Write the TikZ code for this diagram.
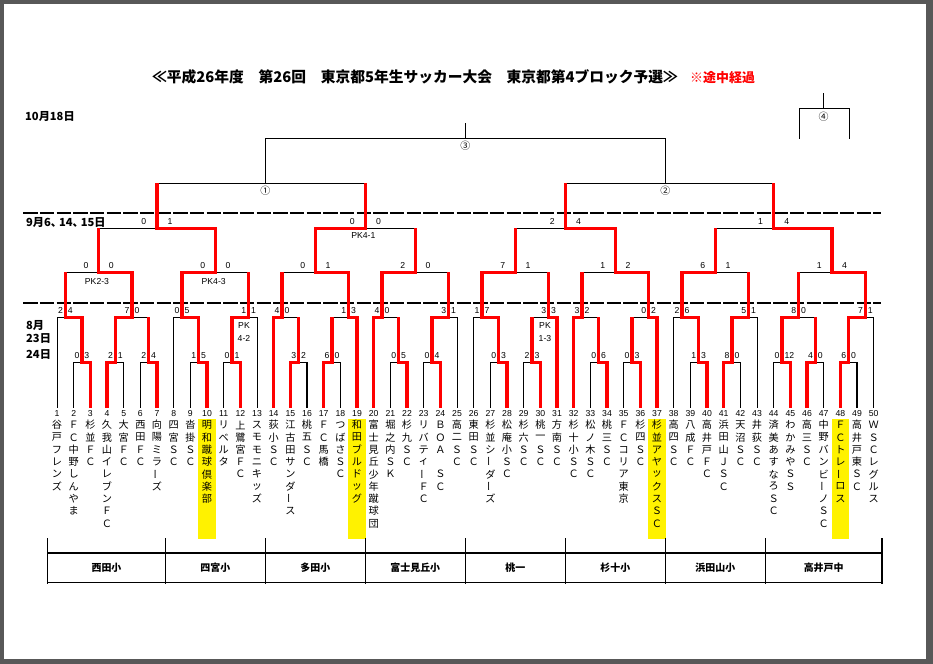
\documentclass[tikz,border=0pt]{standalone}
\usepackage{fontspec}
\usepackage{graphicx}
\setmainfont{Liberation Sans}
\newfontfamily\jp{Noto Sans CJK JP}
\definecolor{pagegray}{RGB}{88,88,88}
\newcommand\kx[1]{57+8.333333*(#1)}
\def\lvA{362.3}\def\lvB{317.3}\def\lvC{272.3}\def\lvD{228.3}\def\lvE{183.3}\def\lvF{138.3}
\newcommand\cho{\rotatebox[origin=c]{90}{ー}}
\newcommand\tname[2]{\foreach \tch [count=\rw] in {#2} {\node[nm] (nm#1-\rw) at ({57+(#1-1)*16.666667}, {425+12.3*(\rw-1)}) {\tch};}}
\newcommand\mt[3]{\draw[blk] (#2) |- (#3 |- #1) -- (#3);}
\newcommand\mtL[3]{\draw[blk] (#2 |- #1) -- (#3 |- #1) -- (#3); \draw[hair] (#2) -- (#2 |- #1);}
\newcommand\mtR[3]{\draw[blk] (#2) -- (#2 |- #1) -- (#3 |- #1); \draw[hair] (#3) -- (#3 |- #1);}
\newcommand\mtD[3]{\draw[blk, line width=1bp] (#2) |- (#3 |- #1) -- (#3);}
\newcommand\sco[4]{\node[score, anchor=base east] (sL#2) at ([xshift=-#1bp, yshift=3.5bp]#2) {#3};
  \node[score, anchor=base west] (sR#2) at ([xshift=#1bp, yshift=3.5bp]#2) {#4};}
\newcommand\tcomma{、\hspace{-3bp}}
\tikzset{
  blk/.style={line width=1.3bp, black},
  hair/.style={line width=0.8bp, black},
  win/.style={line width=3.2bp, red, line join=miter},
  dashline/.style={line width=1.9bp, black, dash pattern=on 14.3bp off 2.367bp},
  score/.style={font=\fontsize{8.7}{9}\selectfont, inner sep=0pt},
  num/.style={font=\fontsize{8.7}{9}\selectfont, inner sep=0pt},
  nm/.style={font=\jp\fontsize{10.2}{10.2}\selectfont, inner sep=0pt},
  datef/.style={font=\jp\bfseries\fontsize{11.2}{11.2}\selectfont, inner sep=0pt, anchor=base west},
  circf/.style={font=\jp\fontsize{10}{10}\selectfont, inner sep=0pt},
  venue/.style={font=\jp\bfseries\fontsize{10}{10}\selectfont, inner sep=0pt}
}
\begin{document}
\begin{tikzpicture}[x=1bp, y=-1bp]
\useasboundingbox (0,0) rectangle (933,664);
\fill[pagegray] (0,0) rectangle (933,664);
\fill[white] (3.5,4) rectangle (925.5,659.3);
% yellow highlights
\foreach \i in {10,19,37,48} \fill[yellow] ({57+(\i-1)*16.666667-8.8}, 419) rectangle ({57+(\i-1)*16.666667+8.8}, 538.5);
% dashed separators
\coordinate (ds1a) at (23.3,213.3); \coordinate (ds1b) at (881,213.3);
\coordinate (ds2a) at (23.3,302.7); \coordinate (ds2b) at (881,302.7);
\draw[dashline] (ds1a) -- (ds1b);
\draw[dashline] (ds2a) -- (ds2b);
% team foot points and numbers
\foreach \i in {1,...,50} {
  \coordinate (t\i) at ({57+(\i-1)*16.666667}, 407.5);
  \node[num] (n\i) at ({57+(\i-1)*16.666667}, 413.2) {\i};
}
% match points
\coordinate (a1) at ({\kx{3}},\lvA); \coordinate (a2) at ({\kx{7}},\lvA); \coordinate (a3) at ({\kx{11}},\lvA);
\coordinate (b1) at ({\kx{1}},\lvB); \coordinate (b2) at ({\kx{9}},\lvB); \coordinate (c1) at ({\kx{5}},\lvC);
\coordinate (a4) at ({\kx{17}},\lvA); \coordinate (a5) at ({\kx{21}},\lvA);
\coordinate (b3) at ({\kx{15}},\lvB); \coordinate (b4) at ({\kx{23}},\lvB); \coordinate (c2) at ({\kx{19}},\lvC);
\coordinate (d1) at ({\kx{12}},\lvD);
\coordinate (a6) at ({\kx{29}},\lvA); \coordinate (a7) at ({\kx{33}},\lvA);
\coordinate (b5) at ({\kx{27}},\lvB); \coordinate (b6) at ({\kx{35}},\lvB); \coordinate (c3) at ({\kx{31}},\lvC);
\coordinate (a8) at ({\kx{41}},\lvA); \coordinate (a9) at ({\kx{45}},\lvA);
\coordinate (b7) at ({\kx{39}},\lvB); \coordinate (b8) at ({\kx{47}},\lvB); \coordinate (c4) at ({\kx{43}},\lvC);
\coordinate (d2) at ({\kx{37}},\lvD); \coordinate (r1) at ({\kx{25}},\lvE);
\coordinate (a10) at ({\kx{53}},\lvA); \coordinate (a11) at ({\kx{57}},\lvA);
\coordinate (b9) at ({\kx{51}},\lvB); \coordinate (b10) at ({\kx{59}},\lvB); \coordinate (c5) at ({\kx{55}},\lvC);
\coordinate (a12) at ({\kx{65}},\lvA); \coordinate (a13) at ({\kx{69}},\lvA);
\coordinate (b11) at ({\kx{63}},\lvB); \coordinate (b12) at ({\kx{71}},\lvB); \coordinate (c6) at ({\kx{67}},\lvC);
\coordinate (d3) at ({\kx{61}},\lvD);
\coordinate (a14) at ({\kx{77}},\lvA); \coordinate (a15) at ({\kx{81}},\lvA);
\coordinate (b13) at ({\kx{75}},\lvB); \coordinate (b14) at ({\kx{83}},\lvB); \coordinate (c7) at ({\kx{79}},\lvC);
\coordinate (a16) at ({\kx{87}},\lvA); \coordinate (a17) at ({\kx{91}},\lvA); \coordinate (a18) at ({\kx{95}},\lvA);
\coordinate (b15) at ({\kx{89}},\lvB); \coordinate (b16) at ({\kx{97}},\lvB); \coordinate (c8) at ({\kx{93}},\lvC);
\coordinate (d4) at ({\kx{86}},\lvD); \coordinate (r2) at ({\kx{73}},\lvE);
\coordinate (r3) at ({\kx{49}},\lvF); \coordinate (r3top) at ({\kx{49}},123.3);
% black brackets
\mt{a1}{t2}{t3} \mt{a2}{t4}{t5} \mt{a3}{t6}{t7}
\mtL{b1}{t1}{a1} \mt{b2}{a2}{a3} \mt{c1}{b1}{b2}
\mt{a4}{t9}{t10} \mt{a5}{t11}{t12}
\mtL{b3}{t8}{a4} \mtR{b4}{a5}{t13} \mt{c2}{b3}{b4}
\mtD{d1}{c1}{c2}
\mt{a6}{t15}{t16} \mt{a7}{t17}{t18}
\mtL{b5}{t14}{a6} \mtR{b6}{a7}{t19} \mt{c3}{b5}{b6}
\mt{a8}{t21}{t22} \mt{a9}{t23}{t24}
\mtL{b7}{t20}{a8} \mtR{b8}{a9}{t25} \mt{c4}{b7}{b8}
\mtD{d2}{c3}{c4}
\mtD{r1}{d1}{d2}
\mt{a10}{t27}{t28} \mt{a11}{t29}{t30}
\mtL{b9}{t26}{a10} \mtR{b10}{a11}{t31} \mt{c5}{b9}{b10}
\mt{a12}{t33}{t34} \mt{a13}{t35}{t36}
\mtL{b11}{t32}{a12} \mtR{b12}{a13}{t37} \mt{c6}{b11}{b12}
\mtD{d3}{c5}{c6}
\mt{a14}{t39}{t40} \mt{a15}{t41}{t42}
\mtL{b13}{t38}{a14} \mtR{b14}{a15}{t43} \mt{c7}{b13}{b14}
\mt{a16}{t44}{t45} \mt{a17}{t46}{t47} \mt{a18}{t48}{t49}
\mt{b15}{a16}{a17} \mtR{b16}{a18}{t50} \mt{c8}{b15}{b16}
\mtD{d4}{c7}{c8}
\mtD{r2}{d3}{d4}
\mtD{r3}{r1}{r2}
\draw[blk, line width=1bp] (r3) -- (r3top);
% bracket 4
\coordinate (q4) at (823.5,108.3); \coordinate (q4t) at (823.5,93);
\coordinate (q4l) at (799,139); \coordinate (q4r) at (849.5,139);
\draw[blk, line width=1bp] (q4l) |- (q4r |- q4) -- (q4r);
\draw[blk, line width=1bp] (q4) -- (q4t);
% winners (red)
\draw[win] (t3) |- (a1) |- (b1) -- (b1 |- c1);
\draw[win] (t4) |- (a2) |- (b2) |- (c1) -- (c1 |- d1);
\draw[win] (t7) |- (a3) -- (a3 |- b2);
\draw[win] (t10) |- (a4) |- (b3) |- (c2) |- (d1) -- (d1 |- r1);
\draw[win] (t12) |- (a5) |- (b4) -- (b4 |- c2);
\draw[win] (t15) |- (a6) -- (a6 |- b5);
\draw[win] (t14) |- (b5) -- (b5 |- c3);
\draw[win] (t17) |- (a7) -- (a7 |- b6);
\draw[win] (t19) |- (b6) |- (c3) |- (d2) -- (d2 |- r1);
\draw[win] (t22) |- (a8) -- (a8 |- b7);
\draw[win] (t24) |- (a9) |- (b8) -- (b8 |- c4);
\draw[win] (t20) |- (b7) |- (c4) -- (c4 |- d2);
\draw[win] (t28) |- (a10) |- (b9) |- (c5) -- (c5 |- d3);
\draw[win] (t30) |- (a11) -- (a11 |- b10);
\draw[win] (t31) |- (b10) -- (b10 |- c5);
\draw[win] (t34) |- (a12) -- (a12 |- b11);
\draw[win] (t36) |- (a13) -- (a13 |- b12);
\draw[win] (t32) |- (b11) -- (b11 |- c6);
\draw[win] (t37) |- (b12) |- (c6) |- (d3) -- (d3 |- r2);
\draw[win] (t40) |- (a14) |- (b13) |- (c7) -- (c7 |- d4);
\draw[win] (t41) |- (a15) |- (b14) -- (b14 |- c7);
\draw[win] (t45) |- (a16) |- (b15) -- (b15 |- c8);
\draw[win] (t46) |- (a17) -- (a17 |- b15);
\draw[win] (t48) |- (a18) |- (b16) |- (c8) |- (d4) -- (d4 |- r2);
% scores
\sco{2.3}{a1}{0}{3} \sco{2.3}{a2}{2}{1} \sco{2.3}{a3}{2}{4}
\sco{2.3}{b1}{2}{4} \sco{2.3}{b2}{7}{0} \sco{10}{c1}{0}{0}
\sco{2.3}{a4}{1}{5} \sco{2.3}{a5}{0}{1} \sco{2.3}{b3}{0}{5} \sco{2.3}{b4}{1}{1}
\sco{10}{c2}{0}{0} \sco{10.5}{d1}{0}{1}
\sco{2.3}{a6}{3}{2} \sco{2.3}{a7}{6}{0} \sco{2.3}{b5}{4}{0} \sco{2.3}{b6}{1}{3} \sco{10}{c3}{0}{1}
\sco{2.3}{a8}{0}{5} \sco{2.3}{a9}{0}{4} \sco{2.3}{b7}{4}{0} \sco{2.3}{b8}{3}{1} \sco{10}{c4}{2}{0}
\sco{10.5}{d2}{0}{0}
\sco{2.3}{a10}{0}{3} \sco{2.3}{a11}{2}{3} \sco{2.3}{b9}{1}{7} \sco{2.3}{b10}{3}{3} \sco{10}{c5}{7}{1}
\sco{2.3}{a12}{0}{6} \sco{2.3}{a13}{0}{3} \sco{2.3}{b11}{3}{2} \sco{2.3}{b12}{0}{2} \sco{10}{c6}{1}{2}
\sco{10.5}{d3}{2}{4}
\sco{2.3}{a14}{1}{3} \sco{2.3}{a15}{8}{0} \sco{2.3}{b13}{2}{6} \sco{2.3}{b14}{5}{1} \sco{10}{c7}{6}{1}
\sco{2.3}{a16}{0}{12} \sco{2.3}{a17}{4}{0} \sco{2.3}{a18}{6}{0} \sco{2.3}{b15}{8}{0} \sco{2.3}{b16}{7}{1}
\sco{10}{c8}{1}{4} \sco{10.5}{d4}{1}{4}
% PK notes
\node[score] (pk1) at (97,281.7) {PK2-3};
\node[score] (pk2) at (213.7,281.7) {PK4-3};
\node[score] (pk3) at (363.3,236) {PK4-1};
\node[score] (pk4a) at (244,325.7) {PK};
\node[score] (pk4b) at (244,338.3) {4-2};
\node[score] (pk5a) at (545,325.7) {PK};
\node[score] (pk5b) at (545,338.3) {1-3};
% round marks
\node[circf] (o1) at ({\kx{25}},190.7) {①};
\node[circf] (o2) at ({\kx{73}},190.7) {②};
\node[circf] (o3) at ({\kx{49}},146) {③};
\node[circf] (o4) at (823.5,116.7) {④};
% title and dates
\node[anchor=base west, inner sep=0, font=\jp\bfseries\fontsize{14.8}{14.8}\selectfont] (title) at (152,82.7) {≪平成26年度　第26回　東京都5年生サッカー大会　東京都第4ブロック予選≫};
\node[anchor=base west, inner sep=0, text=red, font=\jp\bfseries\fontsize{13}{13}\selectfont] (sub) at (690,82.7) {※途中経過};
\node[datef] (dt1) at (25,121) {10月18日};
\node[datef] (dt2) at (26,226) {9月6\tcomma 14\tcomma 15日};
\node[datef] (dt3) at (26,329) {8月};
\node[datef] (dt4) at (26,342.5) {23日};
\node[datef] (dt5) at (26,358) {24日};
% team names
\tname{1}{谷,戸,フ,レ,ン,ズ}
\tname{2}{Ｆ,Ｃ,中,野,し,ん,や,ま}
\tname{3}{杉,並,Ｆ,Ｃ}
\tname{4}{久,我,山,イ,レ,ブ,ン,Ｆ,Ｃ}
\tname{5}{大,宮,Ｆ,Ｃ}
\tname{6}{西,田,Ｆ,Ｃ}
\tname{7}{向,陽,ミ,ラ,\cho,ズ}
\tname{8}{四,宮,Ｓ,Ｃ}
\tname{9}{沓,掛,Ｓ,Ｃ}
\tname{10}{明,和,蹴,球,倶,楽,部}
\tname{11}{リ,ベ,ル,タ}
\tname{12}{上,鷺,宮,Ｆ,Ｃ}
\tname{13}{ス,モ,モ,ニ,キ,ッ,ズ}
\tname{14}{荻,小,Ｓ,Ｃ}
\tname{15}{江,古,田,サ,ン,ダ,\cho,ス}
\tname{16}{桃,五,Ｓ,Ｃ}
\tname{17}{Ｆ,Ｃ,馬,橋}
\tname{18}{つ,ば,さ,Ｓ,Ｃ}
\tname{19}{和,田,ブ,ル,ド,ッ,グ}
\tname{20}{富,士,見,丘,少,年,蹴,球,団}
\tname{21}{堀,之,内,Ｓ,Ｋ}
\tname{22}{杉,九,Ｓ,Ｃ}
\tname{23}{リ,バ,テ,ィ,\cho,Ｆ,Ｃ}
\tname{24}{Ｂ,Ｏ,Ａ,\mbox{},Ｓ,Ｃ}
\tname{25}{高,二,Ｓ,Ｃ}
\tname{26}{東,田,Ｓ,Ｃ}
\tname{27}{杉,並,シ,\cho,ダ,\cho,ズ}
\tname{28}{松,庵,小,Ｓ,Ｃ}
\tname{29}{杉,六,Ｓ,Ｃ}
\tname{30}{桃,一,Ｓ,Ｃ}
\tname{31}{方,南,Ｓ,Ｃ}
\tname{32}{杉,十,小,Ｓ,Ｃ}
\tname{33}{松,ノ,木,Ｓ,Ｃ}
\tname{34}{桃,三,Ｓ,Ｃ}
\tname{35}{Ｆ,Ｃ,コ,リ,ア,東,京}
\tname{36}{杉,四,Ｓ,Ｃ}
\tname{37}{杉,並,ア,ヤ,ッ,ク,ス,Ｓ,Ｃ}
\tname{38}{高,四,Ｓ,Ｃ}
\tname{39}{八,成,Ｆ,Ｃ}
\tname{40}{高,井,戸,Ｆ,Ｃ}
\tname{41}{浜,田,山,Ｊ,Ｓ,Ｃ}
\tname{42}{天,沼,Ｓ,Ｃ}
\tname{43}{井,荻,Ｓ,Ｃ}
\tname{44}{済,美,あ,す,な,ろ,Ｓ,Ｃ}
\tname{45}{わ,か,み,や,Ｓ,Ｓ}
\tname{46}{高,三,Ｓ,Ｃ}
\tname{47}{中,野,バ,ン,ビ,\cho,ノ,Ｓ,Ｃ}
\tname{48}{Ｆ,Ｃ,ト,レ,\cho,ロ,ス}
\tname{49}{高,井,戸,東,Ｓ,Ｃ}
\tname{50}{Ｗ,Ｓ,Ｃ,レ,グ,ル,ス}
% venue table
\foreach \vx in {47.6,165.3,265.3,365.3,465.3,565.3,665.3,765.3,882} \draw[blk, line width=1.2bp] (\vx,538.3) -- (\vx,583.5);
\draw[black, line width=2.3bp] (47.6,552.7) -- (882,552.7);
\draw[black, line width=1.2bp] (47.6,582.3) -- (882,582.3);
\foreach \vt/\vc [count=\j] in {西田小/106.5, 四宮小/215.3, 多田小/315.3, 富士見丘小/415.3, 桃一/515.3, 杉十小/615.3, 浜田山小/715.3, 高井戸中/823.7}
  \node[venue] (v\j) at (\vc,567.3) {\vt};
\end{tikzpicture}
\end{document}
